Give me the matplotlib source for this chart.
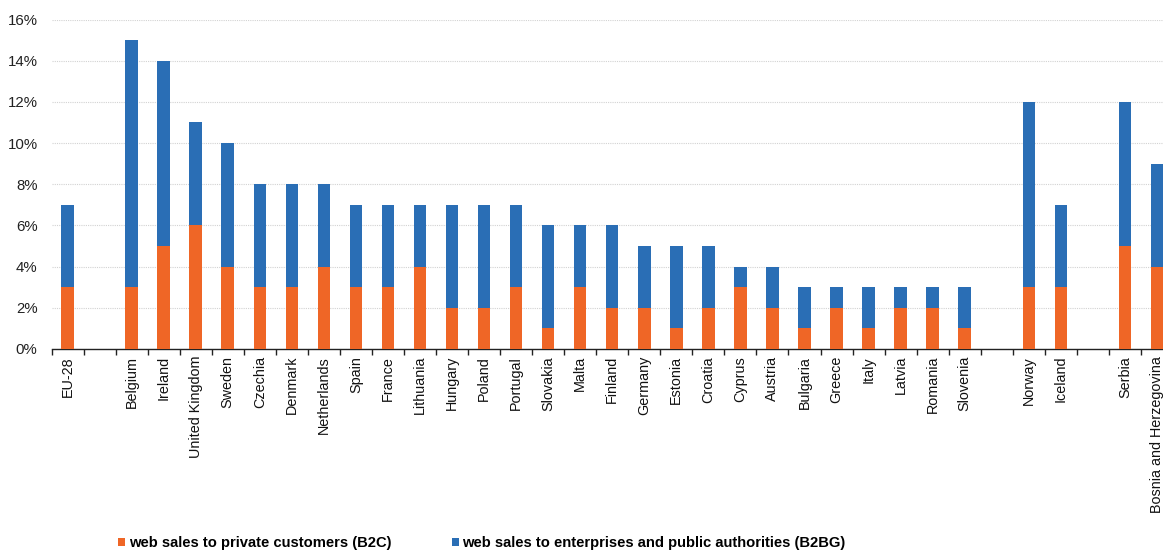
import matplotlib
matplotlib.use("Agg")
import matplotlib.pyplot as plt
from matplotlib.ticker import FixedLocator, FuncFormatter
from matplotlib.patches import Patch

countries = ["EU-28", "Belgium", "Ireland", "United Kingdom", "Sweden", "Czechia",
             "Denmark", "Netherlands", "Spain", "France", "Lithuania", "Hungary",
             "Poland", "Portugal", "Slovakia", "Malta", "Finland", "Germany",
             "Estonia", "Croatia", "Cyprus", "Austria", "Bulgaria", "Greece",
             "Italy", "Latvia", "Romania", "Slovenia", "Norway", "Iceland",
             "Serbia", "Bosnia and Herzegovina"]
slots = [0] + list(range(2, 29)) + [30, 31, 33, 34]
total = [7, 15, 14, 11, 10, 8, 8, 8, 7, 7, 7, 7, 7, 7, 6, 6, 6, 5, 5, 5, 4, 4,
         3, 3, 3, 3, 3, 3, 12, 7, 12, 9]
b2c = [3, 3, 5, 6, 4, 3, 3, 4, 3, 3, 4, 2, 2, 3, 1, 3, 2, 2, 1, 2, 3, 2,
       1, 2, 1, 2, 2, 1, 3, 3, 5, 4]
b2bg = [t - c for t, c in zip(total, b2c)]
series_labels = ["web sales to private customers (B2C)",
                 "web sales to enterprises and public authorities (B2BG)"]
yticks = [0, 2, 4, 6, 8, 10, 12, 14, 16]

orange = "#EF6626"
blue = "#2A6EB5"

plt.rcParams['font.family'] = ['Liberation Sans', 'DejaVu Sans']
fig = plt.figure(figsize=(11.63, 5.51), dpi=100)
W, H = 1163, 551
left_px, right_px = 51.5, 1173
bot_px, top_px = 349, 19.5
ax = fig.add_axes([left_px / W, (H - bot_px) / H, (right_px - left_px) / W, (bot_px - top_px) / H])

bw = 0.39
ax.bar(slots, b2c, width=bw, color=orange, edgecolor="none", zorder=3)
ax.bar(slots, b2bg, width=bw, bottom=b2c, color=blue, edgecolor="none", zorder=3)

ax.set_xlim(-0.5, 34.5)
ax.set_ylim(0, 16)
ax.set_yticks(yticks)
ax.yaxis.set_major_formatter(FuncFormatter(lambda v, p: f"{int(v)}%"))
ax.tick_params(axis='y', length=0, pad=10, labelsize=10.8, labelcolor="#222222")
ax.grid(axis='y', color="#d2d2d2", linestyle=(0, (1, 1)), linewidth=0.8, zorder=0)

ax.set_xticks(slots)
ax.set_xticklabels(countries, rotation=90, fontsize=10.4, color="#111111")
ax.tick_params(axis='x', which='major', length=0, pad=5)
ax.xaxis.set_minor_locator(FixedLocator([i - 0.5 for i in range(0, 36)]))
ax.tick_params(axis='x', which='minor', length=4, width=1, color="#222222", direction='out')

for s in ["top", "right", "left"]:
    ax.spines[s].set_visible(False)
ax.spines["bottom"].set_color("#222222")
ax.spines["bottom"].set_linewidth(1)

fs = 10.6
fpx = fs * 100 / 72
handles = [Patch(facecolor=orange, edgecolor="none"), Patch(facecolor=blue, edgecolor="none")]
fig.legend(handles, series_labels, loc="center left", bbox_to_anchor=(118 / W, 1 - 543 / H),
           ncol=2, frameon=False, borderpad=0, borderaxespad=0,
           handlelength=7 / fpx, handleheight=7 / fpx, handletextpad=4 / fpx,
           columnspacing=60 / fpx, prop={'weight': 'bold', 'size': fs})

fig.savefig("out.png", dpi=100)
